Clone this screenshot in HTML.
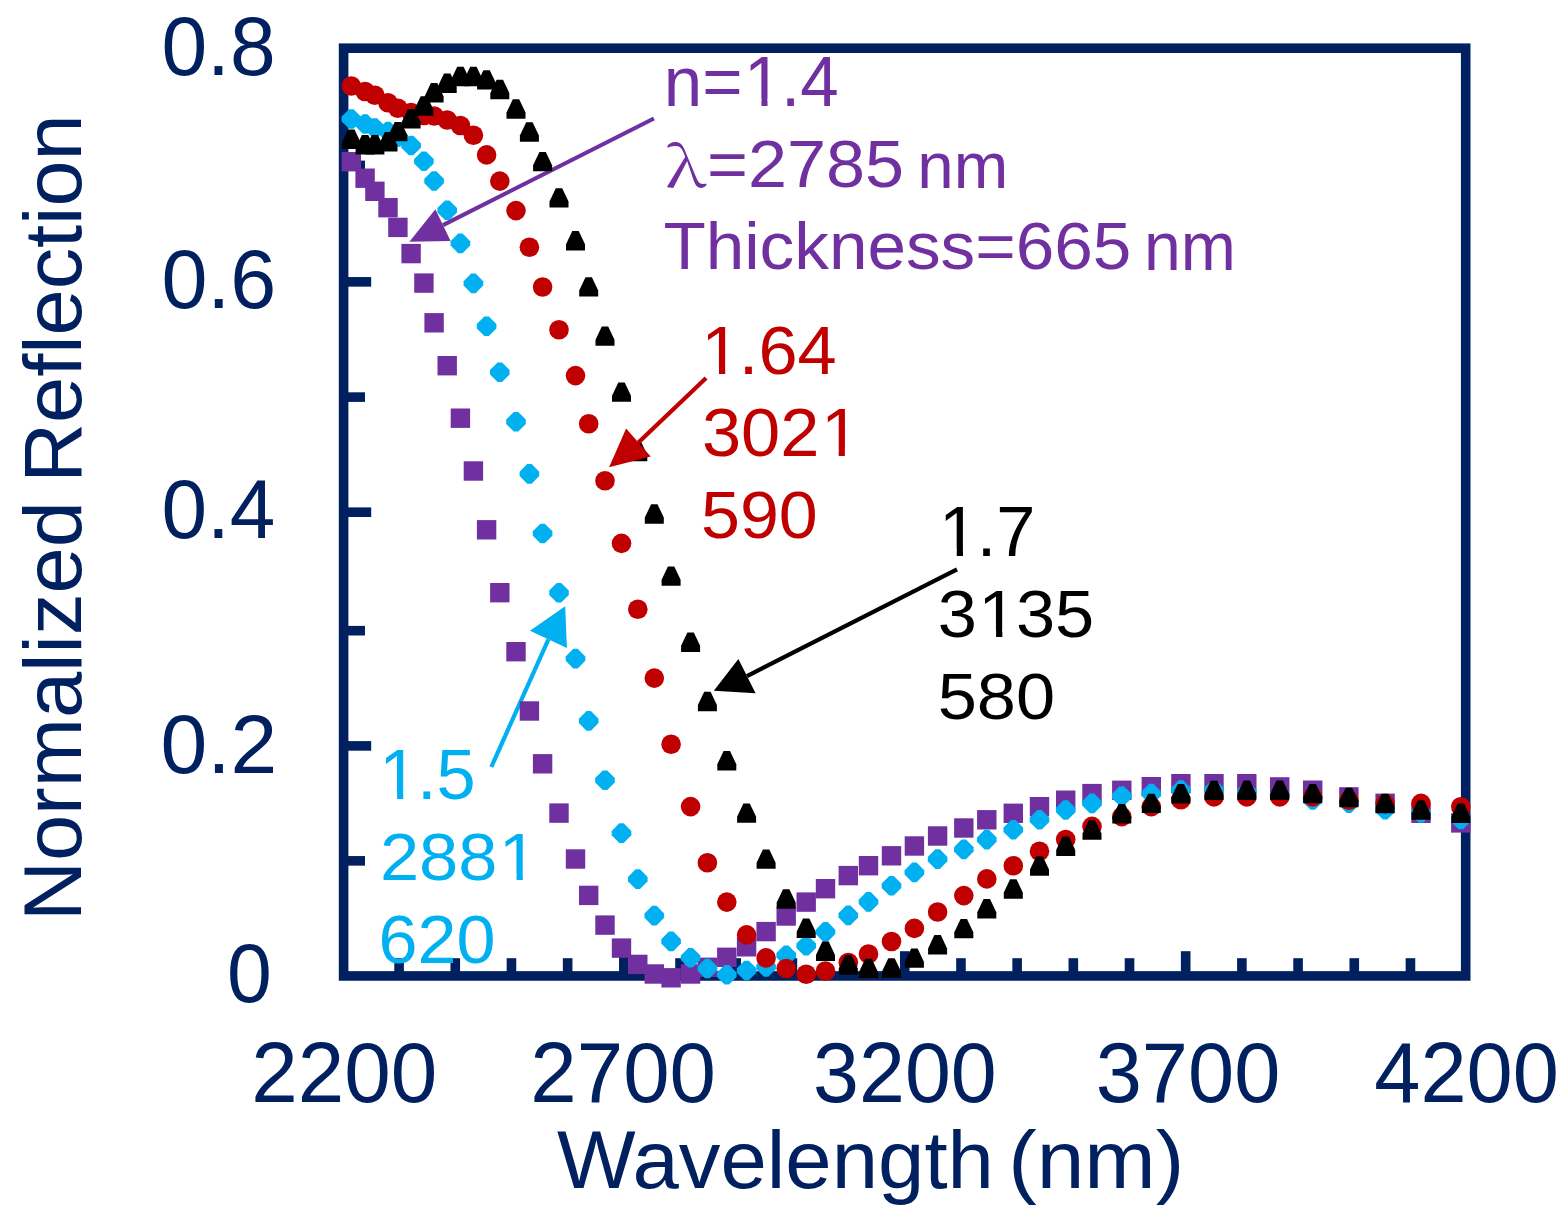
<!DOCTYPE html><html><head><meta charset="utf-8"><title>Normalized Reflection</title><style>html,body{margin:0;padding:0;background:#fff;width:1566px;height:1220px;overflow:hidden}svg{display:block}</style></head><body><svg width="1566" height="1220" viewBox="0 0 1566 1220"><defs><mask id="m_p1" maskUnits="userSpaceOnUse" maskContentUnits="userSpaceOnUse" x="-50" y="-150" width="2000" height="300"><rect x="-50" y="-150" width="2000" height="300" fill="#fff"/><rect x="82.34" y="-6.68" width="13.78" height="9.08" fill="#000"/><rect x="102.13" y="-6.68" width="13.41" height="9.08" fill="#000"/></mask><mask id="m_r1" maskUnits="userSpaceOnUse" maskContentUnits="userSpaceOnUse" x="-50" y="-150" width="2000" height="300"><rect x="-50" y="-150" width="2000" height="300" fill="#fff"/><rect x="4.81" y="-6.68" width="13.78" height="9.08" fill="#000"/><rect x="24.60" y="-6.68" width="13.41" height="9.08" fill="#000"/></mask><mask id="m_r2" maskUnits="userSpaceOnUse" maskContentUnits="userSpaceOnUse" x="-50" y="-150" width="2000" height="300"><rect x="-50" y="-150" width="2000" height="300" fill="#fff"/><rect x="118.28" y="-6.68" width="13.78" height="9.08" fill="#000"/><rect x="138.07" y="-6.68" width="13.41" height="9.08" fill="#000"/></mask><mask id="m_k1" maskUnits="userSpaceOnUse" maskContentUnits="userSpaceOnUse" x="-50" y="-150" width="2000" height="300"><rect x="-50" y="-150" width="2000" height="300" fill="#fff"/><rect x="4.81" y="-6.68" width="13.78" height="9.08" fill="#000"/><rect x="24.60" y="-6.68" width="13.41" height="9.08" fill="#000"/></mask><mask id="m_k2" maskUnits="userSpaceOnUse" maskContentUnits="userSpaceOnUse" x="-50" y="-150" width="2000" height="300"><rect x="-50" y="-150" width="2000" height="300" fill="#fff"/><rect x="42.64" y="-6.68" width="13.78" height="9.08" fill="#000"/><rect x="62.43" y="-6.68" width="13.41" height="9.08" fill="#000"/></mask><mask id="m_c1" maskUnits="userSpaceOnUse" maskContentUnits="userSpaceOnUse" x="-50" y="-150" width="2000" height="300"><rect x="-50" y="-150" width="2000" height="300" fill="#fff"/><rect x="4.81" y="-6.68" width="13.78" height="9.08" fill="#000"/><rect x="24.60" y="-6.68" width="13.41" height="9.08" fill="#000"/></mask><mask id="m_c2" maskUnits="userSpaceOnUse" maskContentUnits="userSpaceOnUse" x="-50" y="-150" width="2000" height="300"><rect x="-50" y="-150" width="2000" height="300" fill="#fff"/><rect x="118.28" y="-6.68" width="13.78" height="9.08" fill="#000"/><rect x="138.07" y="-6.68" width="13.41" height="9.08" fill="#000"/></mask></defs><rect x="0" y="0" width="1566" height="1220" fill="#fff"/><g fill="#002060"><rect x="343.6" y="48.2" width="1122.1" height="927.75" fill="none" stroke="#002060" stroke-width="9.6"/><rect x="394.29" y="958.2" width="9.6" height="14.0"/><rect x="450.47" y="958.2" width="9.6" height="14.0"/><rect x="506.66" y="958.2" width="9.6" height="14.0"/><rect x="562.85" y="958.2" width="9.6" height="14.0"/><rect x="619.04" y="951.2" width="9.6" height="21.0"/><rect x="675.22" y="958.2" width="9.6" height="14.0"/><rect x="731.41" y="958.2" width="9.6" height="14.0"/><rect x="787.60" y="958.2" width="9.6" height="14.0"/><rect x="843.78" y="958.2" width="9.6" height="14.0"/><rect x="899.97" y="951.2" width="9.6" height="21.0"/><rect x="956.16" y="958.2" width="9.6" height="14.0"/><rect x="1012.34" y="958.2" width="9.6" height="14.0"/><rect x="1068.53" y="958.2" width="9.6" height="14.0"/><rect x="1124.72" y="958.2" width="9.6" height="14.0"/><rect x="1180.90" y="951.2" width="9.6" height="21.0"/><rect x="1237.09" y="958.2" width="9.6" height="14.0"/><rect x="1293.28" y="958.2" width="9.6" height="14.0"/><rect x="1349.47" y="958.2" width="9.6" height="14.0"/><rect x="1405.65" y="958.2" width="9.6" height="14.0"/><rect x="347" y="856.05" width="18.0" height="9.6"/><rect x="347" y="741.10" width="24.2" height="9.6"/><rect x="347" y="625.90" width="18.0" height="9.6"/><rect x="347" y="507.40" width="24.2" height="9.6"/><rect x="347" y="392.30" width="18.0" height="9.6"/><rect x="347" y="277.05" width="24.2" height="9.6"/><rect x="347" y="160.60" width="18.0" height="9.6"/></g><line x1="653.9" y1="118.5" x2="443.00" y2="225.10" stroke="#7030A0" stroke-width="4.2"/><polygon fill="#7030A0" points="409.4,241.7 435.4,209.3 450.6,240.9"/><line x1="491.3" y1="767" x2="548.45" y2="639.40" stroke="#00B0F0" stroke-width="4.2"/><polygon fill="#00B0F0" points="565.2,606.2 530,630.8 566.9,648"/><line x1="957" y1="569.4" x2="747.00" y2="676.10" stroke="#000000" stroke-width="4.2"/><polygon fill="#000000" points="713.8,690.8 738.4,658.9 755.6,693.3"/><g fill="#7030A0"><rect x="1451.10" y="813.20" width="19.4" height="19.4"/><rect x="1411.30" y="803.60" width="19.4" height="19.4"/><rect x="1375.40" y="793.60" width="19.4" height="19.4"/><rect x="1339.20" y="787.20" width="19.4" height="19.4"/><rect x="1303.00" y="780.50" width="19.4" height="19.4"/><rect x="1270.00" y="777.20" width="19.4" height="19.4"/><rect x="1237.10" y="774.00" width="19.4" height="19.4"/><rect x="1204.30" y="774.00" width="19.4" height="19.4"/><rect x="1171.20" y="774.00" width="19.4" height="19.4"/><rect x="1141.60" y="777.00" width="19.4" height="19.4"/><rect x="1112.10" y="780.60" width="19.4" height="19.4"/><rect x="1082.30" y="783.90" width="19.4" height="19.4"/><rect x="1056.00" y="790.50" width="19.4" height="19.4"/><rect x="1029.80" y="797.00" width="19.4" height="19.4"/><rect x="1003.60" y="803.60" width="19.4" height="19.4"/><rect x="977.10" y="810.10" width="19.4" height="19.4"/><rect x="954.10" y="818.30" width="19.4" height="19.4"/><rect x="927.90" y="826.30" width="19.4" height="19.4"/><rect x="904.70" y="836.30" width="19.4" height="19.4"/><rect x="881.80" y="846.10" width="19.4" height="19.4"/><rect x="858.80" y="856.00" width="19.4" height="19.4"/><rect x="838.60" y="865.90" width="19.4" height="19.4"/><rect x="815.80" y="879.00" width="19.4" height="19.4"/><rect x="796.50" y="892.40" width="19.4" height="19.4"/><rect x="776.50" y="906.30" width="19.4" height="19.4"/><rect x="756.40" y="921.90" width="19.4" height="19.4"/><rect x="736.90" y="937.10" width="19.4" height="19.4"/><rect x="717.10" y="947.60" width="19.4" height="19.4"/><rect x="697.70" y="957.60" width="19.4" height="19.4"/><rect x="680.90" y="964.30" width="19.4" height="19.4"/><rect x="661.40" y="968.10" width="19.4" height="19.4"/><rect x="644.60" y="964.30" width="19.4" height="19.4"/><rect x="628.10" y="954.70" width="19.4" height="19.4"/><rect x="611.80" y="938.40" width="19.4" height="19.4"/><rect x="595.30" y="915.40" width="19.4" height="19.4"/><rect x="579.00" y="885.70" width="19.4" height="19.4"/><rect x="565.80" y="849.30" width="19.4" height="19.4"/><rect x="549.30" y="803.40" width="19.4" height="19.4"/><rect x="532.90" y="754.10" width="19.4" height="19.4"/><rect x="519.70" y="701.30" width="19.4" height="19.4"/><rect x="506.30" y="642.00" width="19.4" height="19.4"/><rect x="490.10" y="583.00" width="19.4" height="19.4"/><rect x="476.90" y="520.10" width="19.4" height="19.4"/><rect x="463.70" y="461.30" width="19.4" height="19.4"/><rect x="450.70" y="408.50" width="19.4" height="19.4"/><rect x="437.50" y="356.00" width="19.4" height="19.4"/><rect x="424.40" y="313.10" width="19.4" height="19.4"/><rect x="414.20" y="273.40" width="19.4" height="19.4"/><rect x="401.40" y="243.90" width="19.4" height="19.4"/><rect x="388.20" y="217.70" width="19.4" height="19.4"/><rect x="378.30" y="198.00" width="19.4" height="19.4"/><rect x="365.20" y="181.60" width="19.4" height="19.4"/><rect x="355.40" y="168.50" width="19.4" height="19.4"/><rect x="341.60" y="152.00" width="19.4" height="19.4"/></g><g fill="#00B0F0"><polygon points="1458.60,809.70 1463.00,809.70 1470.60,817.30 1470.60,821.70 1463.00,829.30 1458.60,829.30 1451.00,821.70 1451.00,817.30"/><polygon points="1418.80,803.20 1423.20,803.20 1430.80,810.80 1430.80,815.20 1423.20,822.80 1418.80,822.80 1411.20,815.20 1411.20,810.80"/><polygon points="1382.90,800.00 1387.30,800.00 1394.90,807.60 1394.90,812.00 1387.30,819.60 1382.90,819.60 1375.30,812.00 1375.30,807.60"/><polygon points="1346.70,793.30 1351.10,793.30 1358.70,800.90 1358.70,805.30 1351.10,812.90 1346.70,812.90 1339.10,805.30 1339.10,800.90"/><polygon points="1310.50,790.20 1314.90,790.20 1322.50,797.80 1322.50,802.20 1314.90,809.80 1310.50,809.80 1302.90,802.20 1302.90,797.80"/><polygon points="1277.50,785.20 1281.90,785.20 1289.50,792.80 1289.50,797.20 1281.90,804.80 1277.50,804.80 1269.90,797.20 1269.90,792.80"/><polygon points="1244.60,782.20 1249.00,782.20 1256.60,789.80 1256.60,794.20 1249.00,801.80 1244.60,801.80 1237.00,794.20 1237.00,789.80"/><polygon points="1211.80,780.20 1216.20,780.20 1223.80,787.80 1223.80,792.20 1216.20,799.80 1211.80,799.80 1204.20,792.20 1204.20,787.80"/><polygon points="1178.70,780.30 1183.10,780.30 1190.70,787.90 1190.70,792.30 1183.10,799.90 1178.70,799.90 1171.10,792.30 1171.10,787.90"/><polygon points="1149.10,783.80 1153.50,783.80 1161.10,791.40 1161.10,795.80 1153.50,803.40 1149.10,803.40 1141.50,795.80 1141.50,791.40"/><polygon points="1119.60,786.20 1124.00,786.20 1131.60,793.80 1131.60,798.20 1124.00,805.80 1119.60,805.80 1112.00,798.20 1112.00,793.80"/><polygon points="1089.80,793.60 1094.20,793.60 1101.80,801.20 1101.80,805.60 1094.20,813.20 1089.80,813.20 1082.20,805.60 1082.20,801.20"/><polygon points="1063.50,800.20 1067.90,800.20 1075.50,807.80 1075.50,812.20 1067.90,819.80 1063.50,819.80 1055.90,812.20 1055.90,807.80"/><polygon points="1037.30,810.00 1041.70,810.00 1049.30,817.60 1049.30,822.00 1041.70,829.60 1037.30,829.60 1029.70,822.00 1029.70,817.60"/><polygon points="1011.10,819.90 1015.50,819.90 1023.10,827.50 1023.10,831.90 1015.50,839.50 1011.10,839.50 1003.50,831.90 1003.50,827.50"/><polygon points="984.60,829.80 989.00,829.80 996.60,837.40 996.60,841.80 989.00,849.40 984.60,849.40 977.00,841.80 977.00,837.40"/><polygon points="961.60,839.60 966.00,839.60 973.60,847.20 973.60,851.60 966.00,859.20 961.60,859.20 954.00,851.60 954.00,847.20"/><polygon points="935.40,849.30 939.80,849.30 947.40,856.90 947.40,861.30 939.80,868.90 935.40,868.90 927.80,861.30 927.80,856.90"/><polygon points="912.20,862.60 916.60,862.60 924.20,870.20 924.20,874.60 916.60,882.20 912.20,882.20 904.60,874.60 904.60,870.20"/><polygon points="889.30,875.90 893.70,875.90 901.30,883.50 901.30,887.90 893.70,895.50 889.30,895.50 881.70,887.90 881.70,883.50"/><polygon points="866.30,892.10 870.70,892.10 878.30,899.70 878.30,904.10 870.70,911.70 866.30,911.70 858.70,904.10 858.70,899.70"/><polygon points="846.10,905.60 850.50,905.60 858.10,913.20 858.10,917.60 850.50,925.20 846.10,925.20 838.50,917.60 838.50,913.20"/><polygon points="823.30,922.10 827.70,922.10 835.30,929.70 835.30,934.10 827.70,941.70 823.30,941.70 815.70,934.10 815.70,929.70"/><polygon points="804.00,936.00 808.40,936.00 816.00,943.60 816.00,948.00 808.40,955.60 804.00,955.60 796.40,948.00 796.40,943.60"/><polygon points="784.00,945.50 788.40,945.50 796.00,953.10 796.00,957.50 788.40,965.10 784.00,965.10 776.40,957.50 776.40,953.10"/><polygon points="763.90,957.20 768.30,957.20 775.90,964.80 775.90,969.20 768.30,976.80 763.90,976.80 756.30,969.20 756.30,964.80"/><polygon points="744.40,960.70 748.80,960.70 756.40,968.30 756.40,972.70 748.80,980.30 744.40,980.30 736.80,972.70 736.80,968.30"/><polygon points="724.60,964.90 729.00,964.90 736.60,972.50 736.60,976.90 729.00,984.50 724.60,984.50 717.00,976.90 717.00,972.50"/><polygon points="705.20,958.70 709.60,958.70 717.20,966.30 717.20,970.70 709.60,978.30 705.20,978.30 697.60,970.70 697.60,966.30"/><polygon points="688.40,947.90 692.80,947.90 700.40,955.50 700.40,959.90 692.80,967.50 688.40,967.50 680.80,959.90 680.80,955.50"/><polygon points="668.90,931.60 673.30,931.60 680.90,939.20 680.90,943.60 673.30,951.20 668.90,951.20 661.30,943.60 661.30,939.20"/><polygon points="652.10,905.80 656.50,905.80 664.10,913.40 664.10,917.80 656.50,925.40 652.10,925.40 644.50,917.80 644.50,913.40"/><polygon points="635.60,869.30 640.00,869.30 647.60,876.90 647.60,881.30 640.00,888.90 635.60,888.90 628.00,881.30 628.00,876.90"/><polygon points="619.30,823.30 623.70,823.30 631.30,830.90 631.30,835.30 623.70,842.90 619.30,842.90 611.70,835.30 611.70,830.90"/><polygon points="602.80,770.50 607.20,770.50 614.80,778.10 614.80,782.50 607.20,790.10 602.80,790.10 595.20,782.50 595.20,778.10"/><polygon points="586.50,711.10 590.90,711.10 598.50,718.70 598.50,723.10 590.90,730.70 586.50,730.70 578.90,723.10 578.90,718.70"/><polygon points="573.30,648.80 577.70,648.80 585.30,656.40 585.30,660.80 577.70,668.40 573.30,668.40 565.70,660.80 565.70,656.40"/><polygon points="556.80,582.90 561.20,582.90 568.80,590.50 568.80,594.90 561.20,602.50 556.80,602.50 549.20,594.90 549.20,590.50"/><polygon points="540.40,523.70 544.80,523.70 552.40,531.30 552.40,535.70 544.80,543.30 540.40,543.30 532.80,535.70 532.80,531.30"/><polygon points="527.20,464.10 531.60,464.10 539.20,471.70 539.20,476.10 531.60,483.70 527.20,483.70 519.60,476.10 519.60,471.70"/><polygon points="513.80,412.00 518.20,412.00 525.80,419.60 525.80,424.00 518.20,431.60 513.80,431.60 506.20,424.00 506.20,419.60"/><polygon points="497.60,362.40 502.00,362.40 509.60,370.00 509.60,374.40 502.00,382.00 497.60,382.00 490.00,374.40 490.00,370.00"/><polygon points="484.40,316.40 488.80,316.40 496.40,324.00 496.40,328.40 488.80,336.00 484.40,336.00 476.80,328.40 476.80,324.00"/><polygon points="471.20,273.60 475.60,273.60 483.20,281.20 483.20,285.60 475.60,293.20 471.20,293.20 463.60,285.60 463.60,281.20"/><polygon points="458.20,233.60 462.60,233.60 470.20,241.20 470.20,245.60 462.60,253.20 458.20,253.20 450.60,245.60 450.60,241.20"/><polygon points="445.00,200.40 449.40,200.40 457.00,208.00 457.00,212.40 449.40,220.00 445.00,220.00 437.40,212.40 437.40,208.00"/><polygon points="431.90,171.20 436.30,171.20 443.90,178.80 443.90,183.20 436.30,190.80 431.90,190.80 424.30,183.20 424.30,178.80"/><polygon points="421.70,151.50 426.10,151.50 433.70,159.10 433.70,163.50 426.10,171.10 421.70,171.10 414.10,163.50 414.10,159.10"/><polygon points="408.90,135.70 413.30,135.70 420.90,143.30 420.90,147.70 413.30,155.30 408.90,155.30 401.30,147.70 401.30,143.30"/><polygon points="395.70,127.20 400.10,127.20 407.70,134.80 407.70,139.20 400.10,146.80 395.70,146.80 388.10,139.20 388.10,134.80"/><polygon points="385.80,121.70 390.20,121.70 397.80,129.30 397.80,133.70 390.20,141.30 385.80,141.30 378.20,133.70 378.20,129.30"/><polygon points="372.70,118.20 377.10,118.20 384.70,125.80 384.70,130.20 377.10,137.80 372.70,137.80 365.10,130.20 365.10,125.80"/><polygon points="362.90,114.20 367.30,114.20 374.90,121.80 374.90,126.20 367.30,133.80 362.90,133.80 355.30,126.20 355.30,121.80"/><polygon points="349.10,109.20 353.50,109.20 361.10,116.80 361.10,121.20 353.50,128.80 349.10,128.80 341.50,121.20 341.50,116.80"/></g><g fill="#C00000"><circle cx="1460.80" cy="806.80" r="9.8"/><circle cx="1421.00" cy="803.40" r="9.8"/><circle cx="1385.10" cy="803.60" r="9.8"/><circle cx="1348.90" cy="800.30" r="9.8"/><circle cx="1312.70" cy="796.90" r="9.8"/><circle cx="1279.70" cy="796.90" r="9.8"/><circle cx="1246.80" cy="796.90" r="9.8"/><circle cx="1214.00" cy="796.90" r="9.8"/><circle cx="1180.90" cy="799.70" r="9.8"/><circle cx="1151.30" cy="806.60" r="9.8"/><circle cx="1121.80" cy="816.60" r="9.8"/><circle cx="1092.00" cy="826.40" r="9.8"/><circle cx="1065.70" cy="839.50" r="9.8"/><circle cx="1039.50" cy="851.30" r="9.8"/><circle cx="1013.30" cy="865.70" r="9.8"/><circle cx="986.80" cy="878.90" r="9.8"/><circle cx="963.80" cy="895.60" r="9.8"/><circle cx="937.60" cy="912.00" r="9.8"/><circle cx="914.40" cy="928.40" r="9.8"/><circle cx="891.50" cy="941.50" r="9.8"/><circle cx="868.50" cy="954.00" r="9.8"/><circle cx="848.30" cy="962.50" r="9.8"/><circle cx="825.50" cy="971.00" r="9.8"/><circle cx="806.20" cy="974.20" r="9.8"/><circle cx="786.20" cy="968.50" r="9.8"/><circle cx="766.10" cy="957.90" r="9.8"/><circle cx="746.60" cy="934.90" r="9.8"/><circle cx="726.80" cy="902.10" r="9.8"/><circle cx="707.40" cy="862.80" r="9.8"/><circle cx="690.60" cy="806.60" r="9.8"/><circle cx="671.10" cy="744.20" r="9.8"/><circle cx="654.30" cy="678.10" r="9.8"/><circle cx="637.80" cy="609.20" r="9.8"/><circle cx="621.50" cy="543.40" r="9.8"/><circle cx="605.00" cy="480.80" r="9.8"/><circle cx="588.70" cy="423.80" r="9.8"/><circle cx="575.50" cy="375.60" r="9.8"/><circle cx="559.00" cy="329.70" r="9.8"/><circle cx="542.60" cy="287.00" r="9.8"/><circle cx="529.40" cy="247.30" r="9.8"/><circle cx="516.00" cy="210.60" r="9.8"/><circle cx="499.80" cy="181.10" r="9.8"/><circle cx="486.60" cy="154.90" r="9.8"/><circle cx="473.40" cy="135.30" r="9.8"/><circle cx="460.40" cy="125.50" r="9.8"/><circle cx="447.20" cy="120.00" r="9.8"/><circle cx="434.10" cy="116.00" r="9.8"/><circle cx="423.90" cy="115.50" r="9.8"/><circle cx="411.10" cy="112.50" r="9.8"/><circle cx="397.90" cy="108.20" r="9.8"/><circle cx="388.00" cy="102.80" r="9.8"/><circle cx="374.90" cy="95.30" r="9.8"/><circle cx="365.10" cy="91.50" r="9.8"/><circle cx="351.30" cy="86.00" r="9.8"/></g><g fill="#000000"><polygon points="1457.60,803.60 1464.00,803.60 1470.30,816.90 1470.30,823.00 1451.30,823.00 1451.30,816.90"/><polygon points="1417.80,800.30 1424.20,800.30 1430.50,813.60 1430.50,819.70 1411.50,819.70 1411.50,813.60"/><polygon points="1381.90,793.80 1388.30,793.80 1394.60,807.10 1394.60,813.20 1375.60,813.20 1375.60,807.10"/><polygon points="1345.70,787.80 1352.10,787.80 1358.40,801.10 1358.40,807.20 1339.40,807.20 1339.40,801.10"/><polygon points="1309.50,783.90 1315.90,783.90 1322.20,797.20 1322.20,803.30 1303.20,803.30 1303.20,797.20"/><polygon points="1276.50,780.60 1282.90,780.60 1289.20,793.90 1289.20,800.00 1270.20,800.00 1270.20,793.90"/><polygon points="1243.60,780.60 1250.00,780.60 1256.30,793.90 1256.30,800.00 1237.30,800.00 1237.30,793.90"/><polygon points="1210.80,780.60 1217.20,780.60 1223.50,793.90 1223.50,800.00 1204.50,800.00 1204.50,793.90"/><polygon points="1177.70,784.00 1184.10,784.00 1190.40,797.30 1190.40,803.40 1171.40,803.40 1171.40,797.30"/><polygon points="1148.10,793.70 1154.50,793.70 1160.80,807.00 1160.80,813.10 1141.80,813.10 1141.80,807.00"/><polygon points="1118.60,804.00 1125.00,804.00 1131.30,817.30 1131.30,823.40 1112.30,823.40 1112.30,817.30"/><polygon points="1088.80,820.30 1095.20,820.30 1101.50,833.60 1101.50,839.70 1082.50,839.70 1082.50,833.60"/><polygon points="1062.50,836.60 1068.90,836.60 1075.20,849.90 1075.20,856.00 1056.20,856.00 1056.20,849.90"/><polygon points="1036.30,856.30 1042.70,856.30 1049.00,869.60 1049.00,875.70 1030.00,875.70 1030.00,869.60"/><polygon points="1010.10,879.30 1016.50,879.30 1022.80,892.60 1022.80,898.70 1003.80,898.70 1003.80,892.60"/><polygon points="983.60,899.00 990.00,899.00 996.30,912.30 996.30,918.40 977.30,918.40 977.30,912.30"/><polygon points="960.60,918.90 967.00,918.90 973.30,932.20 973.30,938.30 954.30,938.30 954.30,932.20"/><polygon points="934.40,935.10 940.80,935.10 947.10,948.40 947.10,954.50 928.10,954.50 928.10,948.40"/><polygon points="911.20,948.40 917.60,948.40 923.90,961.70 923.90,967.80 904.90,967.80 904.90,961.70"/><polygon points="888.30,958.30 894.70,958.30 901.00,971.60 901.00,977.70 882.00,977.70 882.00,971.60"/><polygon points="865.30,958.70 871.70,958.70 878.00,972.00 878.00,978.10 859.00,978.10 859.00,972.00"/><polygon points="845.10,955.30 851.50,955.30 857.80,968.60 857.80,974.70 838.80,974.70 838.80,968.60"/><polygon points="822.30,941.60 828.70,941.60 835.00,954.90 835.00,961.00 816.00,961.00 816.00,954.90"/><polygon points="803.00,918.50 809.40,918.50 815.70,931.80 815.70,937.90 796.70,937.90 796.70,931.80"/><polygon points="783.00,889.30 789.40,889.30 795.70,902.60 795.70,908.70 776.70,908.70 776.70,902.60"/><polygon points="762.90,849.40 769.30,849.40 775.60,862.70 775.60,868.80 756.60,868.80 756.60,862.70"/><polygon points="743.40,803.40 749.80,803.40 756.10,816.70 756.10,822.80 737.10,822.80 737.10,816.70"/><polygon points="723.60,751.00 730.00,751.00 736.30,764.30 736.30,770.40 717.30,770.40 717.30,764.30"/><polygon points="704.20,691.80 710.60,691.80 716.90,705.10 716.90,711.20 697.90,711.20 697.90,705.10"/><polygon points="687.40,632.50 693.80,632.50 700.10,645.80 700.10,651.90 681.10,651.90 681.10,645.80"/><polygon points="667.90,566.40 674.30,566.40 680.60,579.70 680.60,585.80 661.60,585.80 661.60,579.70"/><polygon points="651.10,504.30 657.50,504.30 663.80,517.60 663.80,523.70 644.80,523.70 644.80,517.60"/><polygon points="634.60,441.80 641.00,441.80 647.30,455.10 647.30,461.20 628.30,461.20 628.30,455.10"/><polygon points="618.30,382.40 624.70,382.40 631.00,395.70 631.00,401.80 612.00,401.80 612.00,395.70"/><polygon points="601.80,326.40 608.20,326.40 614.50,339.70 614.50,345.80 595.50,345.80 595.50,339.70"/><polygon points="585.50,277.20 591.90,277.20 598.20,290.50 598.20,296.60 579.20,296.60 579.20,290.50"/><polygon points="572.30,231.00 578.70,231.00 585.00,244.30 585.00,250.40 566.00,250.40 566.00,244.30"/><polygon points="555.80,188.20 562.20,188.20 568.50,201.50 568.50,207.60 549.50,207.60 549.50,201.50"/><polygon points="539.40,151.90 545.80,151.90 552.10,165.20 552.10,171.30 533.10,171.30 533.10,165.20"/><polygon points="526.20,122.30 532.60,122.30 538.90,135.60 538.90,141.70 519.90,141.70 519.90,135.60"/><polygon points="512.80,99.30 519.20,99.30 525.50,112.60 525.50,118.70 506.50,118.70 506.50,112.60"/><polygon points="496.60,79.80 503.00,79.80 509.30,93.10 509.30,99.20 490.30,99.20 490.30,93.10"/><polygon points="483.40,70.20 489.80,70.20 496.10,83.50 496.10,89.60 477.10,89.60 477.10,83.50"/><polygon points="470.20,66.80 476.60,66.80 482.90,80.10 482.90,86.20 463.90,86.20 463.90,80.10"/><polygon points="457.20,66.80 463.60,66.80 469.90,80.10 469.90,86.20 450.90,86.20 450.90,80.10"/><polygon points="444.00,73.50 450.40,73.50 456.70,86.80 456.70,92.90 437.70,92.90 437.70,86.80"/><polygon points="430.90,83.10 437.30,83.10 443.60,96.40 443.60,102.50 424.60,102.50 424.60,96.40"/><polygon points="420.70,96.30 427.10,96.30 433.40,109.60 433.40,115.70 414.40,115.70 414.40,109.60"/><polygon points="407.90,109.00 414.30,109.00 420.60,122.30 420.60,128.40 401.60,128.40 401.60,122.30"/><polygon points="394.70,121.90 401.10,121.90 407.40,135.20 407.40,141.30 388.40,141.30 388.40,135.20"/><polygon points="384.80,132.10 391.20,132.10 397.50,145.40 397.50,151.50 378.50,151.50 378.50,145.40"/><polygon points="371.70,135.10 378.10,135.10 384.40,148.40 384.40,154.50 365.40,154.50 365.40,148.40"/><polygon points="361.90,135.10 368.30,135.10 374.60,148.40 374.60,154.50 355.60,154.50 355.60,148.40"/><polygon points="348.10,129.50 354.50,129.50 360.80,142.80 360.80,148.90 341.80,148.90 341.80,142.80"/></g><line x1="706.1" y1="377.9" x2="638.40" y2="442.40" stroke="#C00000" stroke-width="4.2"/><polygon fill="#C00000" points="609.1,467.2 626.1,428.4 650.7,456.4"/><g font-family="Liberation Sans, Arial, sans-serif"><text transform="translate(161.39,74.69) scale(1.0019,1.0121)" fill="#002060" font-size="82">0.8</text><text transform="translate(161.38,308.49) scale(1.0083,1.0086)" fill="#002060" font-size="82">0.6</text><text transform="translate(161.40,538.49) scale(0.9991,1.0121)" fill="#002060" font-size="82">0.4</text><text transform="translate(160.52,772.88) scale(1.0252,1.0172)" fill="#002060" font-size="82">0.2</text><text transform="translate(227.05,1002.39) scale(0.9825,1.0086)" fill="#002060" font-size="82">0</text><text transform="translate(251.22,1101.97) scale(1.0200,1.0293)" fill="#002060" font-size="82">2200</text><text transform="translate(530.33,1101.97) scale(1.0177,1.0293)" fill="#002060" font-size="82">2700</text><text transform="translate(813.08,1101.76) scale(1.0068,1.0397)" fill="#002060" font-size="82">3200</text><text transform="translate(1095.66,1101.76) scale(1.0125,1.0397)" fill="#002060" font-size="82">3700</text><text transform="translate(1374.28,1101.76) scale(1.0119,1.0397)" fill="#002060" font-size="82">4200</text><text transform="translate(556.90,1187.60) scale(1.0167,0.9882)" fill="#002060" font-size="82">Wavelength</text><text transform="translate(1008.17,1187.60) scale(1.0453,0.9882)" fill="#002060" font-size="82">(nm)</text><text transform="translate(663.73,105.70) scale(1.0163,1.0468)" fill="#7030A0" font-size="68" mask="url(#m_p1)">n=<tspan dx="1.49">1</tspan><tspan dx="-1.49">.</tspan>4</text><text transform="translate(665.47,186.68) scale(1.0308,0.8196)" fill="#7030A0" font-size="68" font-family="Noto Serif CJK SC, serif">λ</text><text transform="translate(707.11,186.51) scale(1.0314,0.9939)" fill="#7030A0" font-size="68">=2785</text><text transform="translate(917.35,187.50) scale(0.9628,0.9568)" fill="#7030A0" font-size="68">nm</text><text transform="translate(663.38,269.32) scale(1.0189,0.9765)" fill="#7030A0" font-size="68">Thickness=665</text><text transform="translate(1143.91,270.30) scale(0.9733,0.9973)" fill="#7030A0" font-size="68">nm</text><text transform="translate(699.72,374.49) scale(1.0350,1.0082)" fill="#C00000" font-size="68" mask="url(#m_r1)"><tspan dx="1.49">1</tspan><tspan dx="-1.49">.</tspan>64</text><text transform="translate(701.98,456.20) scale(1.0350,0.9959)" fill="#C00000" font-size="68" mask="url(#m_r2)">302<tspan dx="1.49">1</tspan></text><text transform="translate(701.01,538.22) scale(1.0296,0.9837)" fill="#C00000" font-size="68">590</text><text transform="translate(937.52,556.30) scale(1.0350,1.0426)" fill="#000000" font-size="68" mask="url(#m_k1)"><tspan dx="1.49">1</tspan><tspan dx="-1.49">.</tspan>7</text><text transform="translate(937.70,637.22) scale(1.0349,0.9776)" fill="#000000" font-size="68" mask="url(#m_k2)">3<tspan dx="1.49">1</tspan><tspan dx="-1.49">3</tspan>5</text><text transform="translate(937.69,719.04) scale(1.0352,0.9633)" fill="#000000" font-size="68">580</text><text transform="translate(377.80,798.77) scale(1.0350,1.0250)" fill="#00B0F0" font-size="68" mask="url(#m_c1)"><tspan dx="1.49">1</tspan><tspan dx="-1.49">.</tspan>5</text><text transform="translate(379.88,880.21) scale(1.0350,0.9918)" fill="#00B0F0" font-size="68" mask="url(#m_c2)">288<tspan dx="1.49">1</tspan></text><text transform="translate(378.40,962.89) scale(1.0324,1.0061)" fill="#00B0F0" font-size="68">620</text><text transform="translate(81.01,921.08) rotate(-90) scale(1.0127,0.9900)" fill="#002060" font-size="82">Normalized</text><text transform="translate(81.12,482.76) rotate(-90) scale(1.0105,0.9833)" fill="#002060" font-size="82">Reflection</text></g></svg></body></html>
